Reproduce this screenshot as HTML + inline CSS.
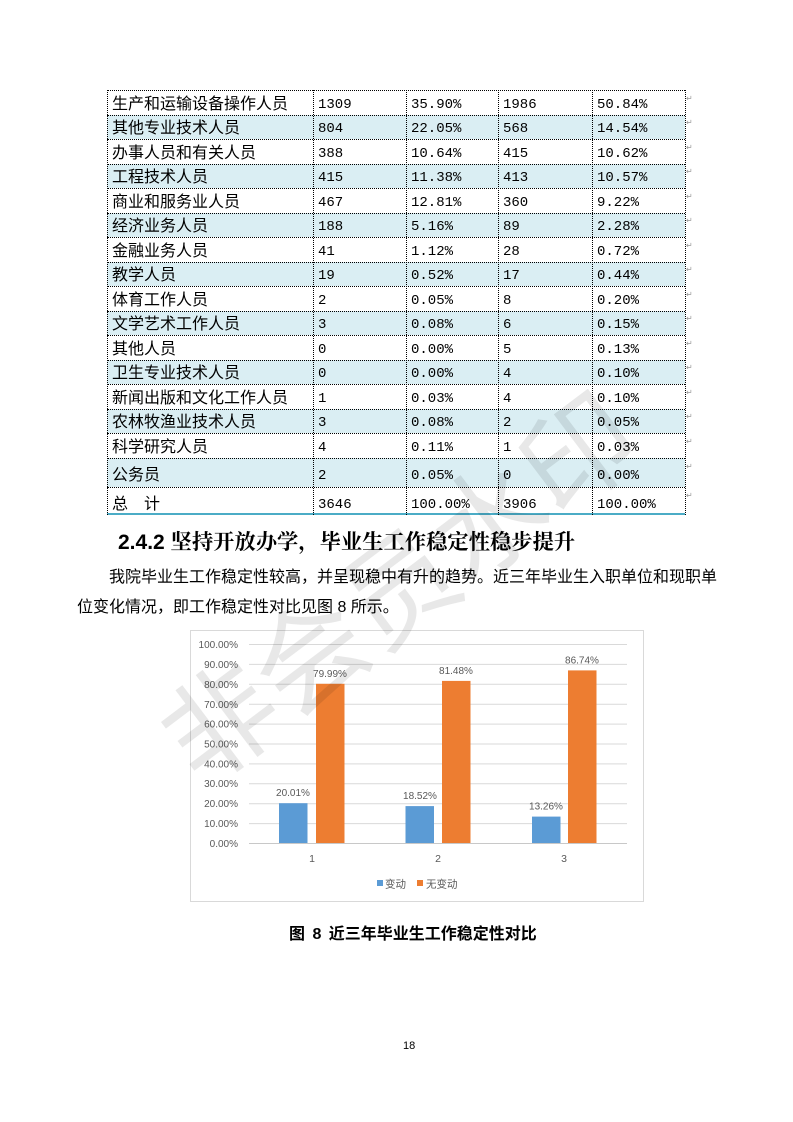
<!DOCTYPE html>
<html>
<head>
<meta charset="utf-8">
<style>
html,body{margin:0;padding:0;background:#fff;}
#page{position:relative;width:793px;height:1122px;overflow:hidden;background:#fff;font-family:"Liberation Sans","Noto Sans CJK SC",sans-serif;color:#000;}
.r{position:absolute;left:107px;width:578px;border-top:1px dotted #000;box-sizing:border-box;}
.r.s{background:#DAEEF3;}
.r span{position:absolute;white-space:nowrap;}
.c1{left:5px;top:-1.5px;font-family:"Noto Sans CJK SC",sans-serif;font-size:16px;}
.n{top:1.5px;font-family:"Liberation Mono","Noto Sans CJK SC",monospace;font-size:14px;}
.c2{left:211px;}.c3{left:304px;}.c4{left:396px;}.c5{left:490px;}
.v{position:absolute;top:90px;height:425px;border-left:1px dotted #000;}
.pm{position:absolute;left:686px;font-size:8px;color:#999;font-family:"DejaVu Sans",sans-serif;}
.t{position:absolute;white-space:nowrap;}
</style>
</head>
<body>
<div id="page">

<div class="r" style="top:90px;height:24.5px;line-height:24px;"><span class="c1">生产和运输设备操作人员</span><span class="n c2">1309</span><span class="n c3">35.90%</span><span class="n c4">1986</span><span class="n c5">50.84%</span></div>
<div class="r s" style="top:114.5px;height:24.5px;line-height:24px;"><span class="c1">其他专业技术人员</span><span class="n c2">804</span><span class="n c3">22.05%</span><span class="n c4">568</span><span class="n c5">14.54%</span></div>
<div class="r" style="top:139px;height:24.5px;line-height:24px;"><span class="c1">办事人员和有关人员</span><span class="n c2">388</span><span class="n c3">10.64%</span><span class="n c4">415</span><span class="n c5">10.62%</span></div>
<div class="r s" style="top:163.5px;height:24.5px;line-height:24px;"><span class="c1">工程技术人员</span><span class="n c2">415</span><span class="n c3">11.38%</span><span class="n c4">413</span><span class="n c5">10.57%</span></div>
<div class="r" style="top:188px;height:24.5px;line-height:24px;"><span class="c1">商业和服务业人员</span><span class="n c2">467</span><span class="n c3">12.81%</span><span class="n c4">360</span><span class="n c5">9.22%</span></div>
<div class="r s" style="top:212.5px;height:24.5px;line-height:24px;"><span class="c1">经济业务人员</span><span class="n c2">188</span><span class="n c3">5.16%</span><span class="n c4">89</span><span class="n c5">2.28%</span></div>
<div class="r" style="top:237px;height:24.5px;line-height:24px;"><span class="c1">金融业务人员</span><span class="n c2">41</span><span class="n c3">1.12%</span><span class="n c4">28</span><span class="n c5">0.72%</span></div>
<div class="r s" style="top:261.5px;height:24.5px;line-height:24px;"><span class="c1">教学人员</span><span class="n c2">19</span><span class="n c3">0.52%</span><span class="n c4">17</span><span class="n c5">0.44%</span></div>
<div class="r" style="top:286px;height:24.5px;line-height:24px;"><span class="c1">体育工作人员</span><span class="n c2">2</span><span class="n c3">0.05%</span><span class="n c4">8</span><span class="n c5">0.20%</span></div>
<div class="r s" style="top:310.5px;height:24.5px;line-height:24px;"><span class="c1">文学艺术工作人员</span><span class="n c2">3</span><span class="n c3">0.08%</span><span class="n c4">6</span><span class="n c5">0.15%</span></div>
<div class="r" style="top:335px;height:24.5px;line-height:24px;"><span class="c1">其他人员</span><span class="n c2">0</span><span class="n c3">0.00%</span><span class="n c4">5</span><span class="n c5">0.13%</span></div>
<div class="r s" style="top:359.5px;height:24.5px;line-height:24px;"><span class="c1">卫生专业技术人员</span><span class="n c2">0</span><span class="n c3">0.00%</span><span class="n c4">4</span><span class="n c5">0.10%</span></div>
<div class="r" style="top:384px;height:24.5px;line-height:24px;"><span class="c1">新闻出版和文化工作人员</span><span class="n c2">1</span><span class="n c3">0.03%</span><span class="n c4">4</span><span class="n c5">0.10%</span></div>
<div class="r s" style="top:408.5px;height:24.5px;line-height:24px;"><span class="c1">农林牧渔业技术人员</span><span class="n c2">3</span><span class="n c3">0.08%</span><span class="n c4">2</span><span class="n c5">0.05%</span></div>
<div class="r" style="top:433px;height:24.5px;line-height:24px;"><span class="c1">科学研究人员</span><span class="n c2">4</span><span class="n c3">0.11%</span><span class="n c4">1</span><span class="n c5">0.03%</span></div>
<div class="r s" style="top:457.5px;height:29.5px;line-height:32px;"><span class="c1">公务员</span><span class="n c2">2</span><span class="n c3">0.05%</span><span class="n c4">0</span><span class="n c5">0.00%</span></div>
<div class="r" style="top:487px;height:28px;line-height:30px;border-bottom:2px solid #4BACC6;"><span class="c1">总　计</span><span class="n c2">3646</span><span class="n c3">100.00%</span><span class="n c4">3906</span><span class="n c5">100.00%</span></div>

<div class="v" style="left:107px"></div>
<div class="v" style="left:313px"></div>
<div class="v" style="left:406px"></div>
<div class="v" style="left:498px"></div>
<div class="v" style="left:592px"></div>
<div class="v" style="left:685px"></div>

<div class="pm" style="top:94px">↵</div>
<div class="pm" style="top:118px">↵</div>
<div class="pm" style="top:143px">↵</div>
<div class="pm" style="top:167px">↵</div>
<div class="pm" style="top:192px">↵</div>
<div class="pm" style="top:216px">↵</div>
<div class="pm" style="top:241px">↵</div>
<div class="pm" style="top:265px">↵</div>
<div class="pm" style="top:290px">↵</div>
<div class="pm" style="top:314px">↵</div>
<div class="pm" style="top:339px">↵</div>
<div class="pm" style="top:363px">↵</div>
<div class="pm" style="top:388px">↵</div>
<div class="pm" style="top:412px">↵</div>
<div class="pm" style="top:437px">↵</div>
<div class="pm" style="top:462px">↵</div>
<div class="pm" style="top:491px">↵</div>

<div class="t" style="left:118px;top:528px;font-size:21px;line-height:26px;font-weight:bold;"><span style="font-family:'Liberation Sans',sans-serif;">2.4.2 </span><span style="font-family:'Noto Serif CJK SC','Noto Sans CJK SC',serif;font-size:21.3px;">坚持开放办学，毕业生工作稳定性稳步提升</span></div>

<div class="t" style="left:109px;top:568px;font-size:16px;line-height:20px;font-family:'Liberation Sans','Noto Sans CJK SC',sans-serif;">我院毕业生工作稳定性较高，并呈现稳中有升的趋势。近三年毕业生入职单位和现职单</div>
<div class="t" style="left:77px;top:598px;font-size:16px;line-height:20px;font-family:'Liberation Sans','Noto Sans CJK SC',sans-serif;">位变化情况，即工作稳定性对比见图 8 所示。</div>

<div class="t" style="left:289px;top:925px;font-size:16px;line-height:20px;font-weight:bold;font-family:'Liberation Sans','Noto Sans CJK SC',sans-serif;word-spacing:3px;">图 8 近三年毕业生工作稳定性对比</div>

<div class="t" style="left:403px;top:1039px;font-size:11px;line-height:14px;font-family:'Liberation Sans',sans-serif;">18</div>

<svg width="793" height="1122" style="position:absolute;left:0;top:0;" xmlns="http://www.w3.org/2000/svg">
  <rect x="190.5" y="630.5" width="453" height="271" fill="#fff" stroke="#d9d9d9" stroke-width="1"/>
  <g stroke="#d9d9d9" stroke-width="1">
    <line x1="249" x2="627" y1="644.5" y2="644.5"/>
    <line x1="249" x2="627" y1="664.4" y2="664.4"/>
    <line x1="249" x2="627" y1="684.3" y2="684.3"/>
    <line x1="249" x2="627" y1="704.2" y2="704.2"/>
    <line x1="249" x2="627" y1="724.1" y2="724.1"/>
    <line x1="249" x2="627" y1="744" y2="744"/>
    <line x1="249" x2="627" y1="763.9" y2="763.9"/>
    <line x1="249" x2="627" y1="783.8" y2="783.8"/>
    <line x1="249" x2="627" y1="803.7" y2="803.7"/>
    <line x1="249" x2="627" y1="823.6" y2="823.6"/>
    <line x1="249" x2="627" y1="843.5" y2="843.5" stroke="#c8c8c8"/>
  </g>
  <g font-family="Liberation Sans, sans-serif" font-size="10" fill="#595959" text-anchor="end">
    <text x="238" y="648">100.00%</text>
    <text x="238" y="668">90.00%</text>
    <text x="238" y="688">80.00%</text>
    <text x="238" y="708">70.00%</text>
    <text x="238" y="727.5">60.00%</text>
    <text x="238" y="747.5">50.00%</text>
    <text x="238" y="767.5">40.00%</text>
    <text x="238" y="787">30.00%</text>
    <text x="238" y="807">20.00%</text>
    <text x="238" y="827">10.00%</text>
    <text x="238" y="847">0.00%</text>
  </g>
  <g fill="#5B9BD5">
    <rect x="279" y="803.2" width="28.5" height="39.8"/>
    <rect x="405.5" y="806.1" width="28.5" height="36.9"/>
    <rect x="532" y="816.6" width="28.5" height="26.4"/>
  </g>
  <g fill="#ED7D31">
    <rect x="316" y="683.8" width="28.5" height="159.2"/>
    <rect x="442" y="680.9" width="28.5" height="162.1"/>
    <rect x="568" y="670.4" width="28.5" height="172.6"/>
  </g>
  <g font-family="Liberation Sans, sans-serif" font-size="10" fill="#595959" text-anchor="middle">
    <text x="293" y="796">20.01%</text>
    <text x="420" y="799">18.52%</text>
    <text x="546" y="809.5">13.26%</text>
    <text x="330" y="677">79.99%</text>
    <text x="456" y="674">81.48%</text>
    <text x="582" y="663.5">86.74%</text>
  </g>
  <g font-family="Liberation Sans, sans-serif" font-size="10.5" fill="#595959" text-anchor="middle">
    <text x="312" y="862">1</text>
    <text x="438" y="862">2</text>
    <text x="564" y="862">3</text>
  </g>
  <rect x="377" y="880" width="6" height="6" fill="#5B9BD5"/>
  <text x="385" y="887.5" font-family="Noto Sans CJK SC, sans-serif" font-size="10.5" fill="#595959">变动</text>
  <rect x="417" y="880" width="6" height="6" fill="#ED7D31"/>
  <text x="426" y="887.5" font-family="Noto Sans CJK SC, sans-serif" font-size="10.5" fill="#595959">无变动</text>

  <text x="395" y="582" text-anchor="middle" dominant-baseline="central" transform="rotate(-37 395 582)" font-family="Noto Sans CJK SC, sans-serif" font-size="112" fill="#000" fill-opacity="0.09">非会员水印</text>
</svg>

</div>
</body>
</html>
